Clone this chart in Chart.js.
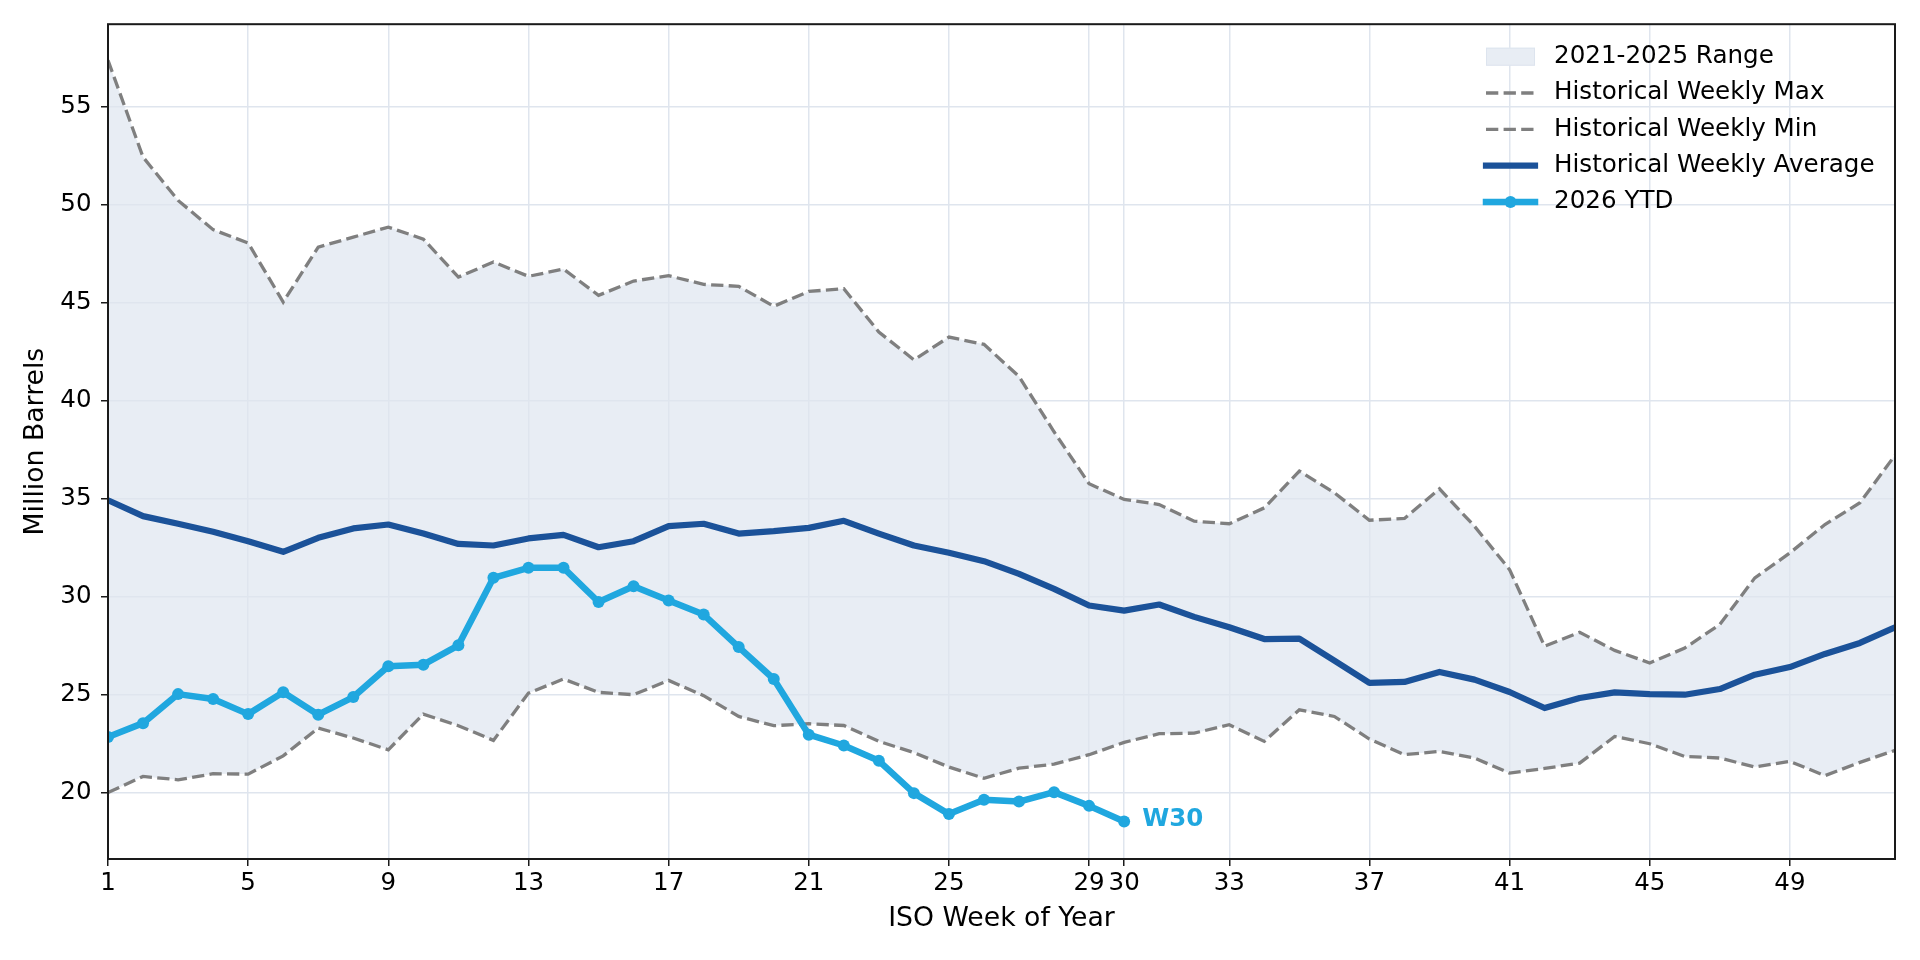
<!DOCTYPE html>
<html>
<head>
<meta charset="utf-8">
<script src="https://cdn.jsdelivr.net/npm/chart.js@4.4.1/dist/chart.umd.min.js"></script>
<style>
  html, body { margin: 0; padding: 0; background: #ffffff; }
  #wrap { width: 1920px; height: 960px; }
</style>
</head>
<body>
<div id="wrap"><canvas id="chart" width="1920" height="960"></canvas></div>
<script>
// ISO weeks on the x axis
const weeks = [1, 2, 3, 4, 5, 6, 7, 8, 9, 10, 11, 12, 13, 14, 15, 16, 17, 18, 19, 20, 21, 22, 23, 24, 25, 26,
  27, 28, 29, 30, 31, 32, 33, 34, 35, 36, 37, 38, 39, 40, 41, 42, 43, 44, 45, 46, 47, 48, 49, 50, 51, 52];

// Historical weekly max (2021-2025)
const histMax = [57.35, 52.41, 50.20, 48.71, 48.03, 45.02, 47.82, 48.33, 48.84, 48.23, 46.29, 47.06, 46.33,
  46.70, 45.36, 46.09, 46.36, 45.92, 45.82, 44.80, 45.56, 45.70, 43.49, 42.07, 43.23, 42.86, 41.22,
  38.40, 35.75, 34.95, 34.69, 33.84, 33.71, 34.52, 36.40, 35.29, 33.89, 33.98, 35.49, 33.58, 31.37,
  27.46, 28.17, 27.25, 26.61, 27.37, 28.57, 30.95, 32.22, 33.67, 34.78, 37.20];

// Historical weekly min (2021-2025)
const histMin = [20.00, 20.82, 20.65, 20.96, 20.94, 21.87, 23.29, 22.78, 22.18, 24.00, 23.41, 22.66, 25.07,
  25.79, 25.11, 24.99, 25.72, 24.94, 23.88, 23.41, 23.51, 23.42, 22.61, 22.04, 21.30, 20.73, 21.24,
  21.45, 21.93, 22.56, 23.00, 23.03, 23.46, 22.61, 24.22, 23.88, 22.73, 21.93, 22.10, 21.76, 20.99,
  21.23, 21.50, 22.86, 22.49, 21.84, 21.76, 21.30, 21.59, 20.86, 21.54, 22.15];

// Historical weekly average
const histAvg = [34.91, 34.10, 33.71, 33.30, 32.82, 32.28, 32.99, 33.47, 33.67, 33.21, 32.68, 32.60, 32.96,
  33.14, 32.51, 32.82, 33.59, 33.71, 33.21, 33.33, 33.50, 33.86, 33.21, 32.60, 32.23, 31.80, 31.15,
  30.39, 29.54, 29.28, 29.59, 28.96, 28.43, 27.83, 27.85, 26.73, 25.59, 25.64, 26.15, 25.76, 25.13,
  24.31, 24.82, 25.11, 25.02, 24.99, 25.28, 26.01, 26.40, 27.07, 27.63, 28.43];

// 2026 year to date (weeks 1-30)
const ytd2026 = [22.83, 23.54, 25.02, 24.77, 24.00, 25.11, 23.97, 24.87, 26.44, 26.52, 27.51, 30.95, 31.46,
  31.46, 29.72, 30.52, 29.79, 29.08, 27.42, 25.79, 22.95, 22.40, 21.62, 19.97, 18.90, 19.63, 19.54,
  20.02, 19.32, 18.52];

const weekTicks = [1, 5, 9, 13, 17, 21, 25, 29, 30, 33, 37, 41, 45, 49];
const valueTicks = [20, 25, 30, 35, 40, 45, 50, 55];

const legendLabels = ["2021-2025 Range", "Historical Weekly Max", "Historical Weekly Min",
  "Historical Weekly Average", "2026 YTD"];

const COLORS = {
  range: "#e8edf4",
  rangeEdge: "#dde4ee",
  dash: "#7f7f7f",
  avg: "#1b5299",
  ytd: "#20a7df",
  grid: "#dfe5ee",
  spine: "#1a1a1a",
};
const FONT = "DejaVu Sans";
const DASH = [12.3, 5.3];
const TICK_SIZE = 24.5;
const TITLE_SIZE = 26.7;
const LEGEND_SIZE = 24.6;

const toPoints = (vals) => vals.map((v, i) => ({ x: weeks[i], y: v }));

// frame around the plot area (all four spines)
const framePlugin = {
  id: "frame",
  afterDraw(chart) {
    const { ctx, chartArea: a } = chart;
    ctx.save();
    ctx.strokeStyle = COLORS.spine;
    ctx.lineWidth = 2;
    ctx.strokeRect(a.left, a.top, a.right - a.left, a.bottom - a.top);
    ctx.restore();
  },
};

// end label next to the last YTD point
const endLabelPlugin = {
  id: "endLabel",
  afterDatasetsDraw(chart) {
    const { ctx, scales } = chart;
    const last = ytd2026.length - 1;
    const x = scales.x.getPixelForValue(weeks[last]) + 18;
    const y = scales.y.getPixelForValue(ytd2026[last]) - 2;
    ctx.save();
    ctx.font = `bold ${TICK_SIZE}px "${FONT}"`;
    ctx.fillStyle = COLORS.ytd;
    ctx.textAlign = "left";
    ctx.textBaseline = "middle";
    ctx.fillText("W" + weeks[last], x, y);
    ctx.restore();
  },
};

// legend drawn inside the plot, upper right, no frame
const legendPlugin = {
  id: "innerLegend",
  afterDraw(chart) {
    const { ctx } = chart;
    const x0 = 1486, x1 = 1535, tx = 1554;
    const rowY = [56.7, 93, 129.3, 165.6, 201.9];
    ctx.save();
    // range patch
    ctx.fillStyle = COLORS.range;
    ctx.fillRect(x0, rowY[0] - 9, x1 - x0, 18);
    ctx.strokeStyle = COLORS.rangeEdge;
    ctx.lineWidth = 1;
    ctx.strokeRect(x0 + 0.5, rowY[0] - 8.5, x1 - x0 - 1, 17);
    // dashed max / min
    [1, 2].forEach((r) => {
      ctx.beginPath();
      ctx.setLineDash(DASH);
      ctx.strokeStyle = COLORS.dash;
      ctx.lineWidth = 3.3;
      ctx.moveTo(x0, rowY[r]);
      ctx.lineTo(x1, rowY[r]);
      ctx.stroke();
    });
    ctx.setLineDash([]);
    // average
    ctx.beginPath();
    ctx.strokeStyle = COLORS.avg;
    ctx.lineWidth = 6.2;
    ctx.lineCap = "square";
    ctx.moveTo(x0, rowY[3]);
    ctx.lineTo(x1, rowY[3]);
    ctx.stroke();
    // ytd with marker
    ctx.beginPath();
    ctx.strokeStyle = COLORS.ytd;
    ctx.lineWidth = 6.5;
    ctx.moveTo(x0, rowY[4]);
    ctx.lineTo(x1, rowY[4]);
    ctx.stroke();
    ctx.beginPath();
    ctx.fillStyle = COLORS.ytd;
    ctx.arc((x0 + x1) / 2, rowY[4], 6, 0, Math.PI * 2);
    ctx.fill();
    // labels
    ctx.font = `${LEGEND_SIZE}px "${FONT}"`;
    ctx.fillStyle = "#000000";
    ctx.textAlign = "left";
    ctx.textBaseline = "middle";
    legendLabels.forEach((t, i) => ctx.fillText(t, tx, rowY[i]));
    ctx.restore();
  },
};

new Chart(document.getElementById("chart"), {
  type: "line",
  data: {
    datasets: [
      {
        label: legendLabels[4],
        data: toPoints(ytd2026),
        borderColor: COLORS.ytd,
        backgroundColor: COLORS.ytd,
        borderWidth: 6.5,
        pointRadius: 6,
        pointBorderWidth: 0,
        pointBackgroundColor: COLORS.ytd,
        borderJoinStyle: "round",
        fill: false,
      },
      {
        label: legendLabels[3],
        data: toPoints(histAvg),
        borderColor: COLORS.avg,
        borderWidth: 6.2,
        pointRadius: 0,
        borderJoinStyle: "round",
        fill: false,
      },
      {
        label: legendLabels[1],
        data: toPoints(histMax),
        borderColor: COLORS.dash,
        borderWidth: 3.3,
        borderDash: DASH,
        pointRadius: 0,
        fill: { target: 3 },
        backgroundColor: COLORS.range,
      },
      {
        label: legendLabels[2],
        data: toPoints(histMin),
        borderColor: COLORS.dash,
        borderWidth: 3.3,
        borderDash: DASH,
        pointRadius: 0,
        fill: false,
      },
    ],
  },
  options: {
    responsive: false,
    animation: false,
    devicePixelRatio: 1,
    layout: { padding: { top: 24, right: 25, left: 0, bottom: 0 } },
    plugins: {
      legend: { display: false },
      tooltip: { enabled: false },
      filler: { drawTime: "beforeDraw" },
    },
    scales: {
      x: {
        type: "linear",
        min: 1,
        max: 52,
        afterBuildTicks: (scale) => {
          scale.ticks = weekTicks.map((v) => ({ value: v }));
        },
        afterFit: (scale) => {
          scale.height = 101;
        },
        ticks: {
          autoSkip: false,
          maxRotation: 0,
          padding: 3,
          color: "#000000",
          font: { family: FONT, size: TICK_SIZE },
          callback: (v) => String(v),
        },
        grid: {
          color: COLORS.grid,
          lineWidth: 1.5,
          tickColor: COLORS.spine,
          tickLength: 7,
          tickWidth: 1.5,
        },
        border: { display: false },
        title: {
          display: true,
          text: "ISO Week of Year",
          color: "#000000",
          font: { family: FONT, size: TITLE_SIZE },
          padding: { top: 0, bottom: 25 },
        },
      },
      y: {
        type: "linear",
        min: 16.61,
        max: 59.19,
        afterBuildTicks: (scale) => {
          scale.ticks = valueTicks.map((v) => ({ value: v }));
        },
        afterFit: (scale) => {
          scale.width = 108;
        },
        ticks: {
          padding: 9.5,
          color: "#000000",
          font: { family: FONT, size: TICK_SIZE },
          callback: (v) => String(v),
        },
        grid: {
          color: COLORS.grid,
          lineWidth: 1.5,
          tickColor: COLORS.spine,
          tickLength: 7,
          tickWidth: 1.5,
        },
        border: { display: false },
        title: {
          display: true,
          text: "Million Barrels",
          color: "#000000",
          font: { family: FONT, size: TITLE_SIZE },
          padding: { top: 20, bottom: 0 },
        },
      },
    },
  },
  plugins: [legendPlugin, endLabelPlugin, framePlugin],
});
</script>
</body>
</html>
